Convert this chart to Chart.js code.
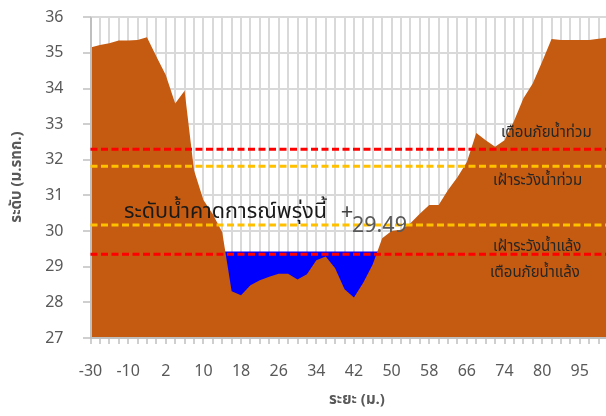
<!DOCTYPE html>
<html>
<head>
<meta charset="utf-8">
<script src="https://cdn.jsdelivr.net/npm/chart.js@4/dist/chart.umd.min.js"></script>
<style>
  html, body { margin: 0; padding: 0; background: #fff; overflow: hidden; }
  #wrap { width: 606px; height: 416px; overflow: hidden; }
</style>
</head>
<body>
<div id="wrap"><canvas id="profileChart" width="612" height="416"></canvas></div>
<script>
// ระยะ (ม.) - ป้ายแกน x
const distances = [-30, -25, -20, -15, -10, -7, -4, -1, 2, 4, 6, 8, 10, 12, 14, 16, 18, 20, 22, 24,
  26, 28, 30, 32, 34, 36, 38, 40, 42, 44, 46, 48, 50, 52, 54, 56, 58, 60, 62, 64,
  66, 68, 70, 72, 74, 76, 78, 79, 80, 84, 88, 92, 95, 98, 100, 102];

// ระดับท้องน้ำ / ตลิ่ง (ม.รทก.)
const groundLevel = [35.15, 35.22, 35.27, 35.35, 35.35, 35.36, 35.44, 34.9, 34.38, 33.58,
  33.94, 31.71, 30.87, 30.47, 29.97, 28.31, 28.2, 28.48, 28.62, 28.72,
  28.8, 28.8, 28.64, 28.79, 29.18, 29.29, 28.96, 28.37, 28.14, 28.56,
  29.07, 29.8, 30.0, 30.04, 30.22, 30.49, 30.73, 30.73, 31.15, 31.51,
  31.94, 32.75, 32.55, 32.37, 32.55, 33.08, 33.72, 34.14, 34.75, 35.39,
  35.36, 35.36, 35.36, 35.36, 35.4, 35.43];

// ระดับน้ำคาดการณ์ (แสดงเฉพาะช่วงร่องน้ำ)
const waterLevel = [null, null, null, null, null, null, null, null, null, null,
  null, null, null, null, 29.43, 29.43, 29.43, 29.43, 29.43, 29.43,
  29.43, 29.43, 29.43, 29.43, 29.43, 29.43, 29.43, 29.43, 29.43, 29.43,
  29.43, 29.43, null, null, null, null, null, null, null, null,
  null, null, null, null, null, null, null, null, null, null,
  null, null, null, null, null, null];

const forecastValue = "29.49";
const yTicks = [27, 28, 29, 30, 31, 32, 33, 34, 35, 36];

// เกณฑ์ระดับน้ำ
const thresholds = [
  { label: "เตือนภัยน้ำท่วม", value: 32.3, color: "#FF0000", tx: 501, ty: 134 },
  { label: "เฝ้าระวังน้ำท่วม", value: 31.82, color: "#FFC000", tx: 493, ty: 182 },
  { label: "เฝ้าระวังน้ำแล้ง", value: 30.17, color: "#FFC000", tx: 493, ty: 248 },
  { label: "เตือนภัยน้ำแล้ง", value: 29.35, color: "#FF0000", tx: 490, ty: 274 },
];

const thaiFont = "'Noto Sans Thai', 'Noto Sans', 'DejaVu Sans', sans-serif";

// เส้นกริด (วาดก่อนพื้นที่)
const gridPlugin = {
  id: "gridLines",
  beforeDatasetsDraw(chart) {
    const { ctx, chartArea, scales } = chart;
    ctx.save();
    ctx.strokeStyle = "#d9d9d9";
    ctx.lineWidth = 2;
    distances.forEach((d, i) => {
      const x = Math.round(scales.x.getPixelForValue(i));
      ctx.beginPath();
      ctx.moveTo(x, chartArea.top);
      ctx.lineTo(x, chartArea.bottom);
      ctx.stroke();
    });
    yTicks.forEach((v) => {
      const y = Math.round(scales.y.getPixelForValue(v));
      ctx.beginPath();
      ctx.moveTo(chartArea.left, y);
      ctx.lineTo(chartArea.right, y);
      ctx.stroke();
    });
    ctx.restore();
  },
};

// เส้นเกณฑ์ + ข้อความต่างๆ
const overlayPlugin = {
  id: "overlay",
  afterDatasetsDraw(chart) {
    const { ctx, chartArea, scales } = chart;
    ctx.save();

    // แกนและขีด
    ctx.strokeStyle = "#bfbfbf";
    ctx.lineWidth = 2;
    const left = Math.round(chartArea.left);
    const bottom = Math.round(chartArea.bottom);
    ctx.beginPath();
    ctx.moveTo(left, chartArea.top);
    ctx.lineTo(left, bottom);
    ctx.lineTo(chartArea.right, bottom);
    ctx.stroke();
    ctx.lineWidth = 1.5;
    distances.forEach((d, i) => {
      const x = Math.round(scales.x.getPixelForValue(i));
      ctx.beginPath();
      ctx.moveTo(x, bottom);
      ctx.lineTo(x, bottom + 6);
      ctx.stroke();
    });
    yTicks.forEach((v) => {
      const y = Math.round(scales.y.getPixelForValue(v));
      ctx.beginPath();
      ctx.moveTo(left - 8, y);
      ctx.lineTo(left, y);
      ctx.stroke();
    });

    thresholds.forEach((t) => {
      const y = scales.y.getPixelForValue(t.value);
      ctx.beginPath();
      ctx.setLineDash([7, 3.5]);
      ctx.lineWidth = 3;
      ctx.strokeStyle = t.color;
      ctx.moveTo(chartArea.left, y);
      ctx.lineTo(chartArea.right, y);
      ctx.stroke();
    });
    ctx.setLineDash([]);

    ctx.fillStyle = "#262626";
    ctx.font = "15px " + thaiFont;
    ctx.textBaseline = "middle";
    ctx.textAlign = "left";
    thresholds.forEach((t) => {
      ctx.fillText(t.label, t.tx, t.ty);
    });

    ctx.font = "21.5px " + thaiFont;
    ctx.fillStyle = "#1a1a1a";
    ctx.fillText("ระดับน้ำคาดการณ์พรุ่งนี้", 124, 214);
    ctx.fillStyle = "#404040";
    ctx.font = "22px " + thaiFont;
    ctx.textAlign = "center";
    ctx.fillText("+", 347, 215);
    ctx.fillStyle = "#595959";
    ctx.font = "21.5px " + thaiFont;
    ctx.textAlign = "left";
    ctx.fillText(forecastValue, 352, 228);

    // ชื่อแกน
    ctx.fillStyle = "#595959";
    ctx.font = "bold 15px " + thaiFont;
    ctx.textAlign = "center";
    ctx.fillText("ระยะ (ม.)", 357, 401);
    ctx.translate(18, 177);
    ctx.rotate(-Math.PI / 2);
    ctx.fillText("ระดับ (ม.รทก.)", 0, 0);
    ctx.restore();
  },
};

const ctx = document.getElementById("profileChart").getContext("2d");
new Chart(ctx, {
  type: "line",
  data: {
    labels: distances,
    datasets: [
      {
        label: "ระดับตลิ่ง",
        data: groundLevel,
        borderWidth: 0,
        borderColor: "#C55A11",
        backgroundColor: "#C55A11",
        pointRadius: 0,
        fill: "start",
        tension: 0,
      },
      {
        label: "ระดับน้ำ",
        data: waterLevel,
        borderWidth: 0,
        borderColor: "#0000FF",
        backgroundColor: "#0000FF",
        pointRadius: 0,
        fill: "start",
        spanGaps: false,
        tension: 0,
      },
    ],
  },
  options: {
    responsive: false,
    animation: false,
    devicePixelRatio: 1,
    layout: { padding: { top: 17.3, right: 4, left: 0, bottom: 0 } },
    plugins: {
      legend: { display: false },
      tooltip: { enabled: false },
    },
    scales: {
      x: {
        type: "category",
        offset: false,
        grid: { display: false, tickLength: 6 },
        border: { display: false },
        ticks: {
          autoSkip: false,
          maxRotation: 0,
          padding: 18,
          color: "#595959",
          font: { size: 16, family: "'Noto Sans', sans-serif" },
          callback: (v, i) => (i % 4 === 0 ? distances[i] : ""),
        },
        afterFit: (s) => {
          s.height = 78;
          s.paddingLeft = 0;
          s.paddingRight = 0;
        },
      },
      y: {
        min: 27,
        max: 36,
        grid: { display: false, tickLength: 8 },
        border: { display: false },
        ticks: {
          stepSize: 1,
          padding: 19,
          color: "#595959",
          font: { size: 16, family: "'Noto Sans', sans-serif" },
        },
        afterFit: (s) => {
          s.width = 90.5;
          s.paddingTop = 0;
          s.paddingBottom = 0;
        },
      },
    },
  },
  plugins: [gridPlugin, overlayPlugin],
});
</script>
</body>
</html>
